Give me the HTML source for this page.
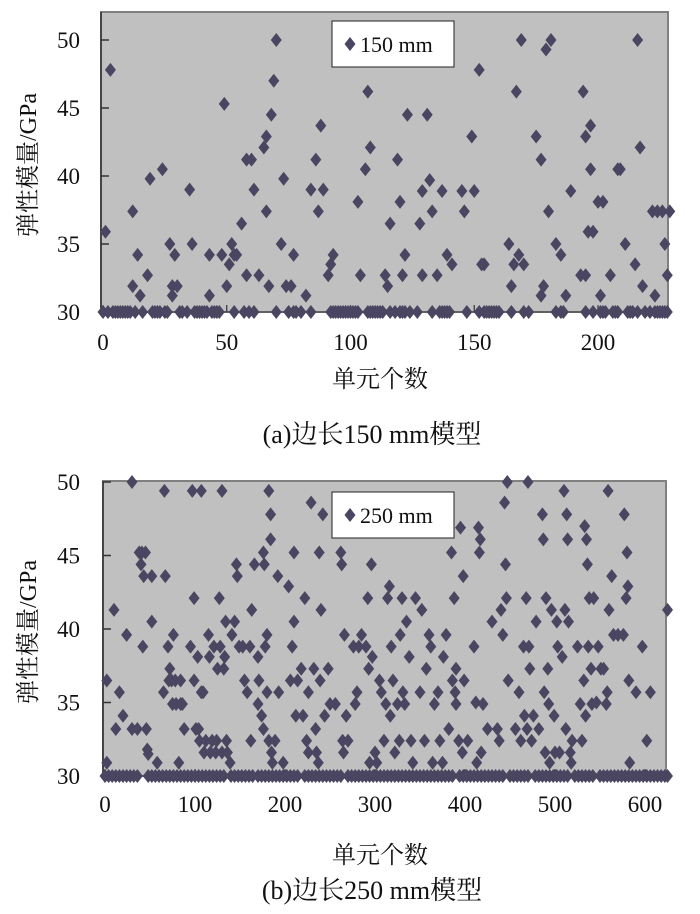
<!DOCTYPE html>
<html><head><meta charset="utf-8">
<style>
html,body{margin:0;padding:0;background:#fff;}
svg{display:block;font-family:"Liberation Serif","Noto Serif CJK SC","Noto Sans CJK SC",serif;}
</style></head>
<body>
<svg id="fig" width="700" height="914" viewBox="0 0 700 914"></svg>
<script>
// ---- Chart (a) data: 150 mm ----
const aYTicks = [30, 35, 40, 45, 50];
const aXTicks = [0, 50, 100, 150, 200];
const aX = [1,3,12,12,14,15,18,19,24,27,28,28,29,30,35,36,43,43,48,49,50,51,52,53,54,56,58,58,60,61,63,65,66,66,67,68,69,70,72,73,74,76,77,82,84,86,87,88,89,91,92,93,103,104,106,107,108,114,115,116,119,120,121,122,123,128,129,129,131,132,133,135,137,139,141,145,146,149,150,152,153,154,164,165,166,167,168,169,170,175,177,177,178,179,180,181,183,185,187,189,193,194,195,195,196,197,197,198,200,201,202,205,208,209,211,215,216,217,218,222,223,224,226,227,228,229];
const aY = [35.9,47.8,37.4,31.9,34.2,31.2,32.7,39.8,40.5,35,31.9,31.2,34.2,31.9,39,35,34.2,31.2,34.2,45.3,31.9,33.5,35,34.2,34.2,36.5,32.7,41.2,41.2,39,32.7,42.1,42.9,37.4,31.9,44.5,47,50,35,39.8,31.9,31.9,34.2,31.2,39,41.2,37.4,43.7,39,32.7,33.5,34.2,38.1,32.7,40.5,46.2,42.1,32.7,31.9,36.5,41.2,38.1,32.7,34.2,44.5,36.5,38.9,32.7,44.5,39.7,37.4,32.7,38.9,34.2,33.5,38.9,37.4,42.9,38.9,47.8,33.5,33.5,35,31.9,33.5,46.2,34.2,50,33.5,42.9,41.2,31.2,31.9,49.3,37.4,50,35,34.2,31.2,38.9,32.7,46.2,32.7,42.9,35.9,40.5,43.7,35.9,38.1,31.2,38.1,32.7,40.5,40.5,35,33.5,50,42.1,31.9,37.4,31.2,37.4,37.4,35,32.7,37.4];
const aBaseX = [0,2,4,5,6,7,8,9,10,11,13,16,20,21,22,23,25,26,31,32,34,37,38,39,40,41,42,44,45,46,47,53,57,59,61,70,75,77,78,80,84,92,93,94,95,96,97,98,99,100,101,102,103,107,108,109,110,111,112,113,116,118,120,121,122,124,127,133,136,137,138,139,140,147,152,154,155,156,157,158,159,160,165,170,172,183,185,186,195,198,201,202,203,206,207,208,212,213,214,216,219,221,223,224,225,226,227,228];
const aBaseVal = 30;

// ---- Chart (b) data: 250 mm ----
const bYTicks = [30, 35, 40, 45, 50];
const bXTicks = [0, 100, 200, 300, 400, 500, 600];
const bX = [2,2,10,12,16,20,24,30,30,36,38,40,41,42,43,45,46,47,48,52,52,58,66,65,67,70,71,72,74,75,76,78,79,82,84,84,86,88,95,97,99,99,101,103,104,105,107,107,109,110,112,115,116,117,119,121,123,124,125,127,128,130,130,132,133,134,135,136,139,141,144,146,147,149,153,155,158,161,163,162,166,170,170,171,174,176,176,177,178,180,180,182,182,184,184,185,186,189,192,193,198,204,206,208,210,210,212,214,218,220,222,224,226,226,229,232,234,235,237,238,239,240,242,244,248,250,256,262,263,264,265,266,268,270,276,278,280,282,285,290,292,293,294,296,297,300,302,305,307,310,312,314,316,317,318,320,322,325,327,328,330,331,333,335,338,340,342,345,350,352,355,357,360,362,364,366,370,372,375,376,379,382,385,386,388,389,390,390,393,395,397,398,399,403,410,412,413,415,416,417,418,420,425,430,436,438,440,442,444,445,446,447,448,456,460,462,465,466,468,469,470,471,472,474,476,479,482,486,487,488,489,490,492,493,494,496,499,500,502,503,505,508,510,511,512,513,514,515,517,518,519,525,528,530,532,533,534,535,536,537,538,540,541,543,546,548,551,554,557,558,559,560,563,565,570,576,577,579,580,581,582,583,590,597,602,606,625];
const bY = [36.5,30.9,41.3,33.2,35.7,34.1,39.6,50,33.2,33.2,45.2,44.4,45.2,38.8,43.6,45.2,33.2,31.8,31.5,43.6,40.5,30.9,49.4,35.7,43.6,38.8,36.5,37.3,36.5,34.9,39.6,36.5,34.9,30.9,36.5,34.9,34.9,33.2,38.8,49.4,42.1,36.5,33.2,38.1,33.2,32.4,49.4,35.7,35.7,31.6,32.4,39.6,38.1,31.6,32.4,38.8,31.6,32.4,37.3,42.1,38.8,49.4,31.6,37.3,38.1,40.5,32.4,31.6,30.9,39.6,40.5,44.4,43.6,38.8,38.8,36.5,35.7,38.8,41.3,32.4,44.4,38.1,34.9,36.5,34.1,45.2,33.2,44.4,38.8,39.6,35.7,49.4,32.4,47.8,46.1,31.6,30.9,32.4,43.6,35.7,30.9,42.9,36.5,38.8,45.2,40.5,34.1,36.5,37.3,34.1,42.1,32.4,35.7,31.6,48.6,37.3,33.2,31.6,30.9,45.2,36.5,41.3,47.8,34.1,37.3,34.9,34.9,45.2,44.4,32.4,31.6,39.6,34.1,32.4,38.8,34.9,35.7,38.8,39.6,38.8,42.1,37.3,30.9,44.4,38.1,31.6,30.9,36.5,35.7,32.4,34.9,42.1,42.9,34.1,38.8,36.5,31.6,34.9,32.4,39.6,42.1,35.7,34.9,40.5,38.1,32.4,30.9,42.1,35.7,41.3,32.4,37.3,39.6,38.8,30.9,34.9,35.7,32.4,30.9,38.1,39.6,33.2,45.2,36.5,42.1,35.7,37.3,34.9,32.4,46.9,31.6,43.6,36.5,32.4,38.8,35,30.9,46.9,45.2,46.1,31.6,34.9,33.2,40.5,33.2,32.4,41.3,39.6,48.6,44.4,42.1,50,36.5,33.2,35.7,32.4,38.8,34.1,42.1,33.2,50,38.8,37.3,32.4,34.1,40.5,33.2,47.8,46.1,35.7,31.6,42.1,37.3,34.9,30.9,41.3,34.1,31.6,40.5,38.8,31.6,38.1,49.4,41.3,33.2,47.8,46.1,40.5,31.6,30.9,32.4,38.8,34.9,32.4,36.5,47,34.1,46.1,44.4,38.8,42.1,37.3,34.9,42.1,35,38.8,37.3,37.3,34.9,35.7,49.4,41.3,43.6,39.6,39.6,39.6,47.8,42.1,45.2,42.9,36.5,30.9,35.7,38.8,32.4,35.7,41.3];
const bBaseX = [0,4,8,12,16,20,24,28,32,36,48,52,56,60,64,68,72,76,80,84,88,92,96,100,104,108,112,116,120,124,128,132,140,144,148,152,156,160,164,170,174,178,182,186,190,194,198,202,206,210,214,222,226,230,234,238,242,246,250,254,258,262,270,274,278,282,286,290,294,298,302,306,310,314,318,322,326,330,334,338,342,346,350,354,358,362,366,370,374,378,382,386,394,398,402,406,410,414,418,422,426,430,434,438,442,450,454,458,462,466,470,478,482,486,490,494,498,502,506,510,514,522,526,530,534,538,542,550,554,558,562,566,570,574,578,582,586,590,594,598,602,606,610,614,618,622,625];
const bBaseVal = 30;

const NS = "http://www.w3.org/2000/svg";
const svg = document.getElementById("fig");
function mk(tag, attrs, parent) {
  const e = document.createElementNS(NS, tag);
  for (const k in attrs) e.setAttribute(k, attrs[k]);
  (parent || svg).appendChild(e);
  return e;
}
function drawChart(cfg) {
  const g = mk("g", {});
  
  
  const sx = v => cfg.x0 + (v - cfg.xmin) * (cfg.x1 - cfg.x0) / (cfg.xmax - cfg.xmin);
  const sy = v => cfg.y0 - (v - cfg.ymin) * (cfg.y0 - cfg.y1) / (cfg.ymax - cfg.ymin);
  const pl = cfg.x0 - 2, pr = cfg.right, pt = cfg.top, pb = sy(cfg.ymin);
  const bg = mk("rect", {x: pl, y: pt, width: pr - pl, height: pb - pt, fill: "#c0c0c0", stroke: "#808080", "stroke-width": 2}, g);
  
  
  const ax = mk("line", {x1: pl, y1: pt, x2: pl, y2: pb, stroke: "#333", "stroke-width": 1.5}, g);
  
  
  const bx = mk("line", {x1: pl, y1: pb, x2: pr, y2: pb, stroke: "#555", "stroke-width": 1.5}, g);
  
  
  cfg.yTicks.forEach(t => {
    mk("line", {x1: pl, y1: sy(t), x2: pl + 8, y2: sy(t), stroke: "#333", "stroke-width": 1.5}, g);
    const tx = mk("text", {x: 80, y: sy(t) + 8, "text-anchor": "end", "font-size": 23, fill: "#111"}, g);
    tx.textContent = t;
    
    
  });
  cfg.xTicks.forEach(t => {
    mk("line", {x1: sx(t), y1: pb, x2: sx(t), y2: pb - 7, stroke: "#333", "stroke-width": 1.2}, g);
    const tx = mk("text", {x: sx(t), y: cfg.xLabelY, "text-anchor": "middle", "font-size": 23, fill: "#111"}, g);
    tx.textContent = t;
    
    
  });
  const dia = (x, y) => {
    const p = mk("polygon", {points: `${x},${y-7} ${x+5.5},${y} ${x},${y+7} ${x-5.5},${y}`, fill: "#4a4560"}, g);
    
    
  };
  cfg.baseX.forEach(v => dia(sx(v), sy(cfg.baseVal)));
  cfg.xs.forEach((v, i) => dia(sx(v), sy(cfg.ys[i])));
  const lg = mk("g", {}, g);
  
  
  mk("rect", {x: cfg.legX, y: cfg.legY, width: 122, height: 46, fill: "#fff", stroke: "#222", "stroke-width": 1}, lg);
  const lx = cfg.legX + 18, ly = cfg.legY + 23;
  mk("polygon", {points: `${lx},${ly-7} ${lx+5.5},${ly} ${lx},${ly+7} ${lx-5.5},${ly}`, fill: "#4a4560"}, lg);
  const lt = mk("text", {x: lx + 10, y: ly + 8, "font-size": 22, fill: "#111"}, lg);
  lt.textContent = cfg.legend;
  
  
  const xt = mk("text", {x: 380, y: cfg.xTitleY, "text-anchor": "middle", "font-size": 24, fill: "#111"}, g);
  xt.textContent = "单元个数";
  
  
  const yt = mk("text", {x: 0, y: 0, "text-anchor": "middle", "font-size": 24, fill: "#111", transform: `translate(36,${cfg.yTitleY}) rotate(-90)`}, g);
  yt.textContent = "弹性模量/GPa";
  
  
  const ct = mk("text", {x: 372, y: cfg.capY, "text-anchor": "middle", "font-size": 26, fill: "#111"}, g);
  ct.textContent = cfg.caption;
  
  
}
drawChart({name: "chart-150mm", x0: 103, x1: 598, xmin: 0, xmax: 200, y0: 312, y1: 40, ymin: 30, ymax: 50,
  right: 668, top: 12, yTicks: aYTicks, xTicks: aXTicks, xs: aX, ys: aY, baseX: aBaseX, baseVal: aBaseVal,
  legX: 332, legY: 21, legend: "150 mm", xLabelY: 350, xTitleY: 387, yTitleY: 165, capY: 443, caption: "(a)边长150 mm模型"});
drawChart({name: "chart-250mm", x0: 105, x1: 645, xmin: 0, xmax: 600, y0: 776, y1: 482, ymin: 30, ymax: 50,
  right: 666, top: 481, yTicks: bYTicks, xTicks: bXTicks, xs: bX, ys: bY, baseX: bBaseX, baseVal: bBaseVal,
  legX: 332, legY: 492, legend: "250 mm", xLabelY: 812, xTitleY: 863, yTitleY: 632, capY: 899, caption: "(b)边长250 mm模型"});
</script>
</body></html>
